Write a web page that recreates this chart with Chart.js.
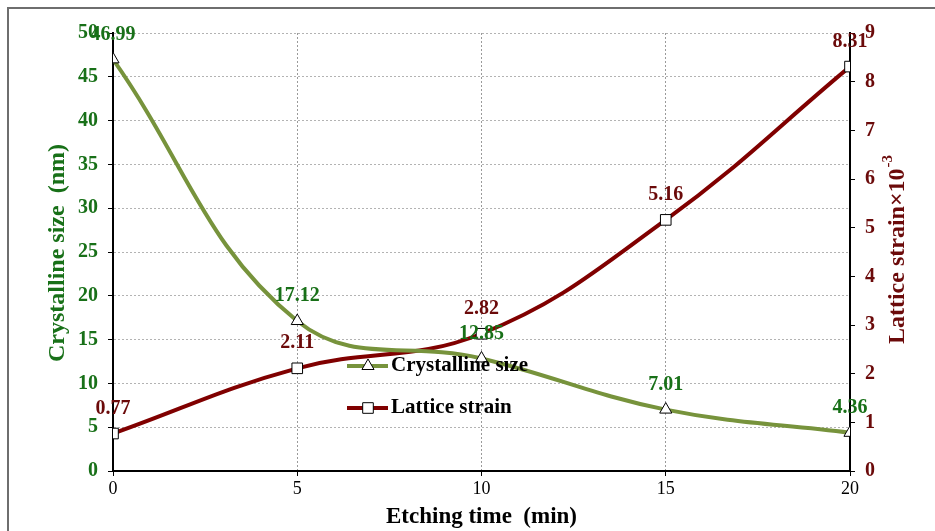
<!DOCTYPE html>
<html>
<head>
<meta charset="utf-8">
<script src="https://cdn.jsdelivr.net/npm/chart.js@4.4.0/dist/chart.umd.min.js"></script>
<style>
  html, body { margin: 0; padding: 0; background: #fff; }
  #wrap { width: 935px; height: 531px; position: relative; }
</style>
</head>
<body>
<div id="wrap"><canvas id="chart" width="935" height="531"></canvas></div>
<script>
// Etching time (min) and the two measured series
const etchTime = [0, 5, 10, 15, 20];
const crystallineSize = [46.99, 17.12, 12.85, 7.01, 4.36];
const latticeStrain = [0.77, 2.11, 2.82, 5.16, 8.31];

const GREEN_LINE = '#77933c';
const GREEN_TEXT = '#187018';
const RED_LINE = '#800000';
const RED_TEXT = '#6b0a0a';
const SERIF = "'Liberation Serif', 'Times New Roman', serif";

function toPoints(ys) {
  return etchTime.map((t, i) => ({ x: t, y: ys[i] }));
}

// value labels above each point
const valueLabels = {
  id: 'valueLabels',
  afterDatasetsDraw(chart) {
    const ctx = chart.ctx;
    ctx.save();
    ctx.font = 'bold 20px ' + SERIF;
    ctx.textAlign = 'center';
    ctx.textBaseline = 'middle';
    chart.data.datasets.forEach((ds, di) => {
      const meta = chart.getDatasetMeta(di);
      ctx.fillStyle = ds.labelColor;
      meta.data.forEach((pt, i) => {
        ctx.fillText(ds.data[i].y.toFixed(2), pt.x, pt.y - 25);
      });
    });
    ctx.restore();
  }
};

// frame, axis titles and the legend inside the plot
const decorations = {
  id: 'decorations',
  afterDraw(chart) {
    const ctx = chart.ctx;
    const area = chart.chartArea;
    ctx.save();

    // outer frame (cut by the picture on the right and bottom)
    ctx.strokeStyle = '#6e6e6e';
    ctx.lineWidth = 2;
    ctx.beginPath();
    ctx.moveTo(8, 540);
    ctx.lineTo(8, 8);
    ctx.lineTo(940, 8);
    ctx.stroke();

    // x title
    ctx.fillStyle = '#000';
    ctx.font = 'bold 23px ' + SERIF;
    ctx.textAlign = 'center';
    ctx.textBaseline = 'middle';
    ctx.fillText('Etching time  (min)', (area.left + area.right) / 2, 517);

    // left title
    ctx.save();
    ctx.translate(58, 253);
    ctx.rotate(-Math.PI / 2);
    ctx.font = 'bold 24px ' + SERIF;
    ctx.fillStyle = GREEN_TEXT;
    ctx.fillText('Crystalline size  (nm)', 0, 0);
    ctx.restore();

    // right title with superscript
    ctx.save();
    ctx.translate(898, 250);
    ctx.rotate(-Math.PI / 2);
    ctx.fillStyle = RED_TEXT;
    const main = 'Lattice strain\u00d710';
    ctx.font = 'bold 24px ' + SERIF;
    const wMain = ctx.measureText(main).width;
    ctx.font = 'bold 15px ' + SERIF;
    const wSup = ctx.measureText('-3').width;
    const start = -(wMain + wSup) / 2;
    ctx.textAlign = 'left';
    ctx.font = 'bold 24px ' + SERIF;
    ctx.fillText(main, start, 0);
    ctx.font = 'bold 15px ' + SERIF;
    ctx.fillText('-3', start + wMain + 1, -10);
    ctx.restore();

    // legend
    const items = [
      { text: 'Crystalline size', color: GREEN_LINE, style: 'triangle', y: 366 },
      { text: 'Lattice strain', color: RED_LINE, style: 'rect', y: 408 }
    ];
    items.forEach(it => {
      ctx.strokeStyle = it.color;
      ctx.lineWidth = 4;
      ctx.beginPath();
      ctx.moveTo(347, it.y);
      ctx.lineTo(388, it.y);
      ctx.stroke();
      ctx.fillStyle = '#fff';
      ctx.strokeStyle = '#000';
      ctx.lineWidth = 1;
      Chart.helpers.drawPoint(ctx, { pointStyle: it.style, radius: it.style === 'rect' ? 7.5 : 7, rotation: 0, borderWidth: 1 }, 368, it.y);
      ctx.fillStyle = '#000';
      ctx.font = 'bold 21px ' + SERIF;
      ctx.textAlign = 'left';
      ctx.textBaseline = 'middle';
      ctx.fillText(it.text, 391, it.y);
    });

    ctx.restore();
  }
};

const gridDash = [2, 2];

new Chart(document.getElementById('chart').getContext('2d'), {
  type: 'line',
  data: {
    datasets: [
      {
        label: 'Crystalline size',
        data: toPoints(crystallineSize),
        yAxisID: 'y',
        borderColor: GREEN_LINE,
        borderWidth: 4,
        tension: 0.4,
        pointStyle: 'triangle',
        pointRadius: 7,
        pointBackgroundColor: '#fff',
        pointBorderColor: '#000',
        pointBorderWidth: 1,
        labelColor: GREEN_TEXT
      },
      {
        label: 'Lattice strain',
        data: toPoints(latticeStrain),
        yAxisID: 'y1',
        borderColor: RED_LINE,
        borderWidth: 4,
        tension: 0.4,
        pointStyle: 'rect',
        pointRadius: 7.5,
        pointBackgroundColor: '#fff',
        pointBorderColor: '#000',
        pointBorderWidth: 1,
        labelColor: RED_TEXT
      }
    ]
  },
  options: {
    responsive: false,
    animation: false,
    layout: { padding: { top: 33, left: 0, right: 0, bottom: 0 } },
    plugins: {
      legend: { display: false },
      tooltip: { enabled: false }
    },
    scales: {
      x: {
        type: 'linear',
        min: 0,
        max: 20,
        afterFit(s) { s.height = 60; },
        ticks: { stepSize: 5, color: '#000', padding: 2, font: { family: SERIF, size: 18 } },
        grid: {
          color: c => (c.tick && (c.tick.value === 0 || c.tick.value === 20)) ? 'rgba(0,0,0,0)' : '#9a9a9a',
          lineWidth: 1,
          tickColor: '#000',
          tickLength: 5
        },
        border: { display: true, color: '#000', width: 2, dash: gridDash }
      },
      y: {
        position: 'left',
        min: 0,
        max: 50,
        afterFit(s) { s.width = 113; },
        ticks: { stepSize: 5, color: GREEN_TEXT, padding: 10, font: { family: SERIF, size: 20, weight: 'bold' } },
        grid: {
          color: c => (c.tick && c.tick.value === 0) ? 'rgba(0,0,0,0)' : '#b3b3b3',
          lineWidth: 1,
          tickColor: '#000',
          tickLength: 5
        },
        border: { display: true, color: '#000', width: 2, dash: gridDash }
      },
      y1: {
        position: 'right',
        min: 0,
        max: 9,
        afterFit(s) { s.width = 85; },
        ticks: { stepSize: 1, color: RED_TEXT, padding: 10, font: { family: SERIF, size: 20, weight: 'bold' } },
        grid: { drawOnChartArea: false, tickColor: '#000', tickLength: 5 },
        border: { display: true, color: '#000', width: 2 }
      }
    }
  },
  plugins: [valueLabels, decorations]
});
</script>
</body>
</html>
